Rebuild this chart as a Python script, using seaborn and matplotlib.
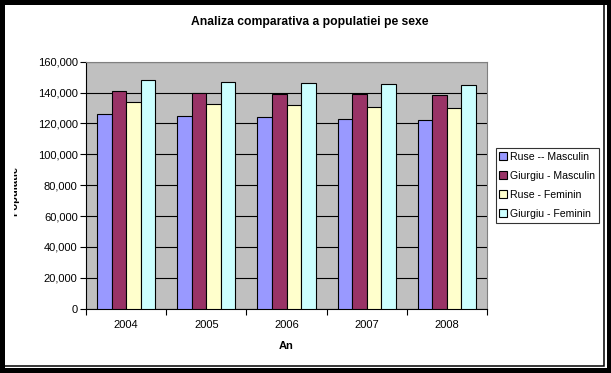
import matplotlib
matplotlib.use("Agg")
import matplotlib.pyplot as plt
from matplotlib.patches import Rectangle
from matplotlib.ticker import FuncFormatter, FixedLocator
from matplotlib.transforms import Bbox, TransformedBbox
import pandas as pd
import seaborn as sns

# data
years = ["2004", "2005", "2006", "2007", "2008"]
series = ["Ruse -- Masculin", "Giurgiu - Masculin", "Ruse - Feminin", "Giurgiu - Feminin"]
ruse_masc = [125900, 124600, 124000, 122700, 122000]
giurgiu_masc = [140800, 139500, 139100, 139100, 138200]
ruse_fem = [133700, 132400, 131800, 130500, 129800]
giurgiu_fem = [148000, 146700, 146000, 145400, 144700]
colors = ["#9999FF", "#993366", "#FFFFCC", "#CCFFFF"]

rows = []
for name, vals in zip(series, [ruse_masc, giurgiu_masc, ruse_fem, giurgiu_fem]):
    for yr, v in zip(years, vals):
        rows.append({"An": yr, "Populatie": v, "Serie": name})
df = pd.DataFrame(rows)

plt.rcParams["font.family"] = ["Liberation Sans", "DejaVu Sans"]

W, H = 611, 373
fig = plt.figure(figsize=(W / 100, H / 100), dpi=100)
fig.patch.set_facecolor("black")


def fx(x):
    return x / W


def fy(y):
    return 1 - y / H


# white chart area with its thin black border line
fig.add_artist(Rectangle((fx(5), fy(367.5)), fx(601.5), 362.5 / H,
                         transform=fig.transFigure, facecolor="white", edgecolor="none", zorder=0))
fig.add_artist(Rectangle((fx(3), fy(365.8)), fx(601.2), 362.8 / H,
                         transform=fig.transFigure, facecolor="none", edgecolor="black",
                         linewidth=1.1, zorder=1))

ax = fig.add_axes([fx(86), fy(308.7), fx(487 - 86), (308.7 - 61.7) / H])
ax.set_facecolor("#C0C0C0")

sns.barplot(data=df, x="An", y="Populatie", hue="Serie", palette=colors,
            width=0.727, edgecolor="black", linewidth=0.8, saturation=1,
            errorbar=None, ax=ax, zorder=3)

ax.set_ylim(0, 160000)
ax.set_xlim(-0.5, 4.5)
ax.set_yticks(range(0, 160001, 20000))
ax.yaxis.set_major_formatter(FuncFormatter(lambda v, p: f"{int(v):,}"))
ax.grid(axis="y", color="black", linewidth=0.8, zorder=1)
ax.set_axisbelow(True)

ax.tick_params(axis="y", direction="out", length=4, width=0.8, labelsize=8, pad=2, colors="black")
ax.tick_params(axis="x", which="major", length=0, labelsize=8, pad=8)
ax.xaxis.set_minor_locator(FixedLocator([-0.5, 0.5, 1.5, 2.5, 3.5, 4.5]))
ax.tick_params(axis="x", which="minor", direction="out", length=4, width=0.8)

for side in ["top", "right"]:
    ax.spines[side].set_color("#808080")
    ax.spines[side].set_linewidth(0.8)
for side in ["left", "bottom"]:
    ax.spines[side].set_color("black")
    ax.spines[side].set_linewidth(0.8)

ax.set_xlabel("An", fontsize=8, fontweight="bold", labelpad=8)
ax.set_ylabel("")

handles, labels = ax.get_legend_handles_labels()
ax.get_legend().remove()
leg = fig.legend(handles, labels, loc="upper left",
                 bbox_to_anchor=(fx(495.7), fy(148.3)), borderaxespad=0,
                 fontsize=7.6, frameon=True, fancybox=False, edgecolor="black",
                 handlelength=0.75, handleheight=0.75, handletextpad=0.25,
                 labelspacing=0.85, borderpad=0.35)
leg.get_frame().set_linewidth(0.8)

fig.text(fx(310), fy(21.5), "Analiza comparativa a populatiei pe sexe",
         ha="center", va="center", fontsize=8.7, fontweight="bold")

# y-axis label, partly cut off like in the original
ylab = fig.text(fx(19.5), fy(191), "Populatie", rotation=90, ha="right", va="center",
                fontsize=8, fontweight="bold")
ylab.set_clip_box(TransformedBbox(Bbox.from_extents(fx(14), 0, 1, 1), fig.transFigure))
ylab.set_clip_on(True)

fig.savefig("out.png", dpi=100, facecolor=fig.get_facecolor())
